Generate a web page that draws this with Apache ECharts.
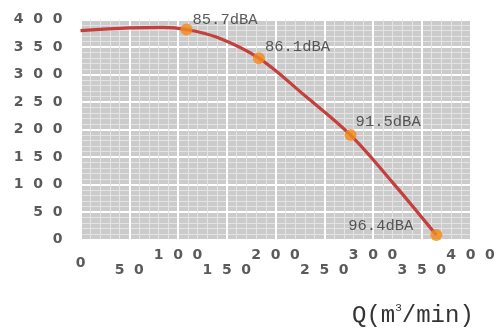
<!DOCTYPE html>
<html>
<head>
<meta charset="utf-8">
<script src="https://cdn.jsdelivr.net/npm/echarts@6/dist/echarts.min.js"></script>
<style>
html,body{margin:0;padding:0;background:#fff;}
#chart{width:498px;height:331px;}
</style>
</head>
<body>
<div id="chart"></div>
<script>
// Curve data: Q (m3/min) vs static pressure
const curveQ  = [0,   50,  85,  108.7, 140, 183, 230, 277, 320, 365];
const curveP  = [380, 385, 386, 382,   368, 330, 262, 190, 104, 8];
// Marked operating points with noise levels
const markQ = [108.7, 183, 277, 365];
const markP = [382,   330, 190, 8];
const markNoise = ['85.7dBA', '86.1dBA', '91.5dBA', '96.4dBA'];
// Axis ticks
const xTicks = [0, 50, 100, 150, 200, 250, 300, 350, 400];
const yTicks = [0, 50, 100, 150, 200, 250, 300, 350, 400];
const xTitle = 'Q(m{sup|3}/min)';

const spaced = v => String(v).split('').join('  ');
const labelPlacement = [
  {position: 'right', distance: 0, offset: [0, -10]},
  {position: 'right', distance: 0, offset: [0, -11]},
  {position: 'right', distance: 0, offset: [-1, -13]},
  {position: 'left',  distance: 0, offset: [-17, -9]}
];

const axisFont = {fontFamily: 'DejaVu Sans', fontSize: 14, fontWeight: 'bold', color: '#5a5a5a'};

const chart = echarts.init(document.getElementById('chart'), null, {renderer: 'canvas'});
chart.setOption({
  animation: false,
  title: {
    text: xTitle,
    left: 347, top: 298,
    textStyle: {
      fontFamily: 'Liberation Mono', fontSize: 24, color: '#333', fontWeight: 'normal',
      rich: {sup: {fontFamily: 'Liberation Mono', fontSize: 11, color: '#333', padding: [0, 0, 14, 0]}}
    }
  },
  grid: {left: 80.5, right: 27.5, top: 19.7, bottom: 91.5, show: true, backgroundColor: '#cbcbcb', borderWidth: 0},
  xAxis: {
    type: 'value', min: xTicks[0], max: xTicks[xTicks.length - 1], interval: 50,
    axisLine: {show: false}, axisTick: {show: false},
    splitLine: {show: true, lineStyle: {color: '#ffffff', width: 2}},
    minorTick: {show: false, splitNumber: 5},
    minorSplitLine: {show: true, lineStyle: {color: '#e4e4e4', width: 1}},
    axisLabel: {
      margin: 9,
      formatter: v => {
        const s = spaced(v);
        if (v === 0) return '{m|' + s + '}';
        return ((v / 50) % 2 === 1) ? '{l|' + s + '}' : '{u|' + s + '}';
      },
      rich: {
        u: Object.assign({lineHeight: 14, padding: [0, 0, 0, 0]}, axisFont),
        m: Object.assign({lineHeight: 14, padding: [15, 0, 0, 0]}, axisFont),
        l: Object.assign({lineHeight: 14, padding: [29, 0, 0, 0]}, axisFont)
      }
    }
  },
  yAxis: {
    type: 'value', min: yTicks[0], max: yTicks[yTicks.length - 1], interval: 50,
    axisLine: {show: false}, axisTick: {show: false},
    splitLine: {show: true, lineStyle: {color: '#ffffff', width: 2}},
    minorTick: {show: false, splitNumber: 5},
    minorSplitLine: {show: true, lineStyle: {color: '#e4e4e4', width: 1}},
    axisLabel: Object.assign({margin: 18, formatter: v => spaced(v)}, axisFont)
  },
  series: [
    {
      type: 'line', smooth: 0.35, showSymbol: false,
      data: curveQ.map((q, i) => [q, curveP[i]]),
      lineStyle: {color: '#c4403f', width: 3.2},
      z: 3
    },
    {
      type: 'scatter', symbolSize: 12,
      itemStyle: {color: '#f28a1a'},
      data: markQ.map((q, i) => ({
        value: [q, markP[i]],
        label: Object.assign({
          show: true, formatter: markNoise[i],
          fontFamily: 'Liberation Mono', fontSize: 15.5, color: '#333',
          verticalAlign: 'middle'
        }, labelPlacement[i])
      })),
      z: 4
    }
  ]
});
</script>
</body>
</html>
